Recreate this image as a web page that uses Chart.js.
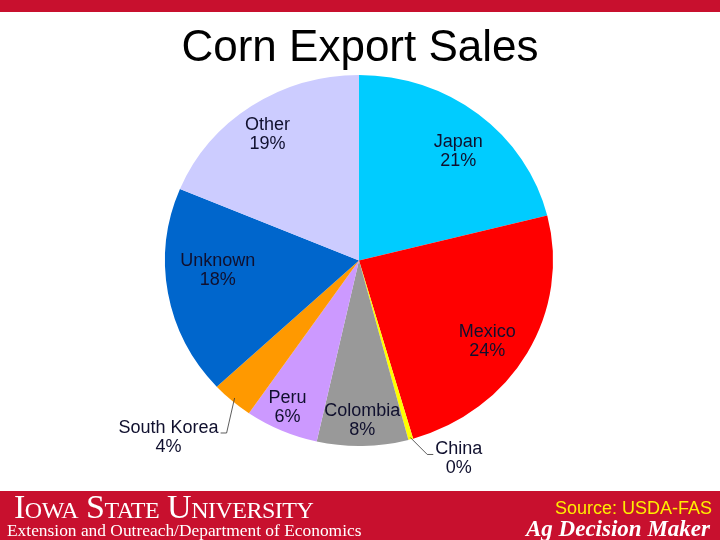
<!DOCTYPE html>
<html>
<head>
<meta charset="utf-8">
<title>Corn Export Sales</title>
<script src="https://cdn.jsdelivr.net/npm/chart.js@4"></script>
<style>
    html, body { margin: 0; padding: 0; background: #fff; }
    #slide { position: relative; width: 720px; height: 540px; overflow: hidden; }
    #topbar { position: absolute; left: 0; top: 0; width: 720px; height: 12px; background: #c8102e; }
    #title { position: absolute; left: 0; top: 21px; width: 720px; text-align: center;
             font-family: "Liberation Sans", Arial, sans-serif; font-size: 44px; color: #000; }
    #banner { position: absolute; left: 0; top: 491px; width: 720px; height: 49px; background: #c8102e; }
    #isu { position: absolute; left: 14px; top: -1px; font-family: "Liberation Serif", serif;
           font-size: 34px; font-variant: small-caps; color: #fff; letter-spacing: -0.5px; line-height: 34px; }
    #dept { position: absolute; left: 7px; top: 30px; font-family: "Liberation Serif", serif;
            font-size: 17.4px; color: #fff; line-height: 18px; }
    #source { position: absolute; right: 8px; top: 7px; font-family: "Liberation Sans", Arial, sans-serif;
              font-size: 18px; color: #ffee00; line-height: 20px; }
    #agdm { position: absolute; right: 10px; top: 25px; font-family: "Liberation Serif", serif;
            font-size: 23px; font-weight: bold; font-style: italic; color: #fff; line-height: 26px; }
    canvas { position: absolute; left: 0; top: 0; }
</style>
</head>
<body>
<div id="slide">
    <canvas id="pie" width="720" height="540"></canvas>
    <div id="topbar"></div>
    <div id="title">Corn Export Sales</div>
    <div id="banner">
        <div id="isu">Iowa State University</div>
        <div id="dept">Extension and Outreach/Department of Economics</div>
        <div id="source">Source: USDA-FAS</div>
        <div id="agdm">Ag Decision Maker</div>
    </div>
</div>
<script>
// share of corn export sales, clockwise from 12 o'clock
const countries = ["Japan", "Mexico", "China", "Colombia", "Peru", "South Korea", "Unknown", "Other"];
const shares = [21.1, 24.4, 0.4, 7.6, 6.1, 3.5, 18.2, 18.7];
const pctLabels = ["21%", "24%", "0%", "8%", "6%", "4%", "18%", "19%"];
const sliceColors = ["#00ccff", "#ff0000", "#ffff00", "#999999", "#cc99ff", "#ff9900", "#0066cc", "#ccccff"];

// the slide's pie is a little wider than tall
const stretchX = 1.046;

// where each label sits: fraction of radius + small angle nudge (deg); outside ones get a leader line
const labelPlacement = [
    { r: 0.78, da: 3 },
    { r: 0.79, da: 3.4 },
    { outside: true, side: "right", r: 0.99, dx: 17, dy: 17 },
    { r: 0.86, da: 0 },
    { r: 0.87, da: 1.5 },
    { outside: true, side: "left", r: 0.98, dx: -8, dy: 35 },
    { r: 0.73, da: 6 },
    { r: 0.83, da: -1 }
];

const ellipsePie = {
    id: "ellipsePie",
    beforeDatasetsDraw(chart) {
        const arc = chart.getDatasetMeta(0).data[0];
        const ctx = chart.ctx;
        ctx.save();
        ctx.translate(arc.x, arc.y);
        ctx.scale(stretchX, 1);
        ctx.translate(-arc.x, -arc.y);
    },
    afterDatasetsDraw(chart) {
        const ctx = chart.ctx;
        ctx.restore();

        const arcs = chart.getDatasetMeta(0).data;
        ctx.save();
        ctx.font = "18px 'Liberation Sans', Arial, sans-serif";
        ctx.fillStyle = "#10102e";
        ctx.textBaseline = "middle";
        arcs.forEach((arc, i) => {
            const p = labelPlacement[i];
            const mid = (arc.startAngle + arc.endAngle) / 2 + (p.da || 0) * Math.PI / 180;
            const rad = arc.outerRadius * p.r;
            const x = arc.x + Math.cos(mid) * rad * stretchX;
            const y = arc.y + Math.sin(mid) * rad;
            if (!p.outside) {
                ctx.textAlign = "center";
                ctx.fillText(countries[i], x, y - 9);
                ctx.fillText(pctLabels[i], x, y + 10);
                return;
            }
            // leader line: diagonal then a short horizontal tick
            const ex = x + p.dx, ey = y + p.dy;
            const tick = p.side === "left" ? -6 : 6;
            ctx.strokeStyle = "#333";
            ctx.lineWidth = 0.8;
            ctx.beginPath();
            ctx.moveTo(x, y);
            ctx.lineTo(ex, ey);
            ctx.lineTo(ex + tick, ey);
            ctx.stroke();
            const tx = ex + tick + (p.side === "left" ? -2 : 2);
            ctx.textAlign = p.side === "left" ? "right" : "left";
            ctx.fillText(countries[i], tx, ey - 5);
            const w = ctx.measureText(countries[i]).width;
            ctx.textAlign = "center";
            ctx.fillText(pctLabels[i], p.side === "left" ? tx - w / 2 : tx + w / 2, ey + 14);
        });
        ctx.restore();
    }
};

new Chart(document.getElementById("pie"), {
    type: "pie",
    data: {
        labels: countries,
        datasets: [{
            data: shares,
            backgroundColor: sliceColors,
            borderWidth: 0
        }]
    },
    options: {
        responsive: false,
        animation: false,
        layout: { padding: { top: 75, bottom: 94, left: 0, right: 2 } },
        plugins: {
            legend: { display: false },
            tooltip: { enabled: false }
        }
    },
    plugins: [ellipsePie]
});
</script>
</body>
</html>
